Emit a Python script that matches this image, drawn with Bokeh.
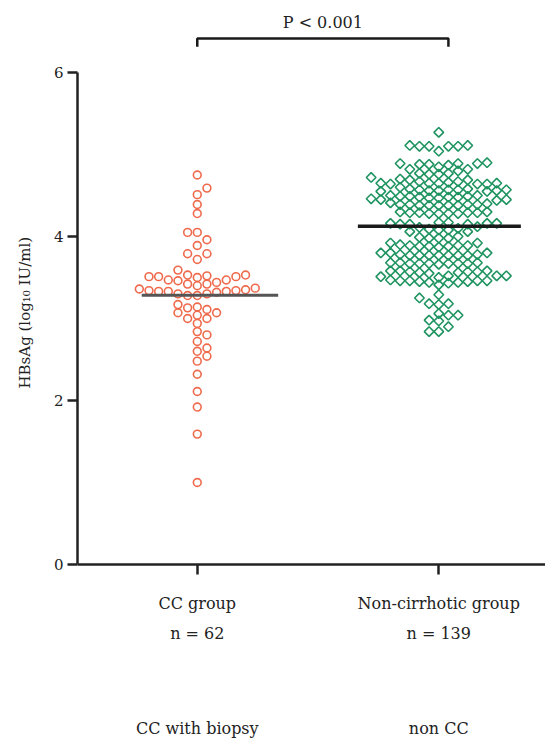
import numpy as np
from bokeh.plotting import figure
from bokeh.models import FixedTicker, Range1d, Title
from bokeh.core.properties import value
from bokeh.embed import file_html
from bokeh.resources import INLINE

# ---------------- data ----------------
groups = ["CC group", "Non-cirrhotic group"]
group_n = ["n = 62", "n = 139"]
group_sub = ["CC with biopsy", "non CC"]
p_text = "P < 0.001"
y_ticks = [0, 2, 4, 6]
y_title = "HBsAg (log\u2081\u2080 IU/ml)"

cc_values = [
    4.75, 4.59, 4.51, 4.39, 4.28, 4.05, 4.05, 3.96, 3.89, 3.79, 3.79, 3.72, 3.59,
    3.51, 3.50, 3.47, 3.44, 3.53, 3.52, 3.53, 3.46, 3.47, 3.51, 3.51,
    3.42, 3.40, 3.42,
    3.36, 3.35, 3.34, 3.33, 3.32, 3.30, 3.28, 3.28, 3.30, 3.33, 3.33, 3.34, 3.37,
    3.17, 3.13, 3.07, 3.07, 3.11, 3.14, 3.00, 2.94, 3.00, 3.04,
    2.84, 2.80, 2.72, 2.64, 2.60, 2.54, 2.48, 2.32, 2.11, 1.92, 1.59, 1.00,
]

noncc_values = [
    5.27,
    5.10, 5.11, 5.10, 5.04, 5.11, 5.10, 5.10,
    4.89, 4.89, 4.87, 4.82, 4.80, 4.90, 4.89, 4.82, 4.85, 4.88, 4.88,
    4.77, 4.76, 4.77, 4.76,
    4.72, 4.69, 4.67, 4.65, 4.64, 4.64, 4.65, 4.64, 4.65, 4.65, 4.66, 4.67, 4.69, 4.70,
    4.57, 4.56, 4.58, 4.55, 4.57, 4.56, 4.55, 4.56, 4.57, 4.58, 4.57, 4.60,
    4.50, 4.47, 4.45, 4.46, 4.48, 4.49, 4.50, 4.48, 4.49, 4.49, 4.48, 4.45, 4.44, 4.47,
    4.39, 4.38, 4.38, 4.39, 4.39, 4.40, 4.38, 4.38, 4.38, 4.39, 4.41,
    4.30, 4.28, 4.29, 4.28, 4.30, 4.29, 4.28, 4.28, 4.29, 4.29,
    4.17, 4.15, 4.15, 4.16, 4.16, 4.17, 4.15, 4.16,
    4.08, 4.06, 4.09, 4.10, 4.11, 4.12, 4.08, 4.06,
    4.00, 3.98, 3.98, 3.98, 3.99,
    3.92, 3.89, 3.88, 3.88, 3.89, 3.87, 3.88, 3.89, 3.90, 3.92,
    3.80, 3.78, 3.77, 3.77, 3.77, 3.77, 3.77, 3.78, 3.77, 3.77, 3.80, 3.80,
    3.68, 3.67, 3.67, 3.67, 3.67, 3.67, 3.68, 3.68, 3.67, 3.66,
    3.58, 3.57, 3.57, 3.56, 3.55, 3.56, 3.57, 3.58, 3.58,
    3.52, 3.51, 3.47, 3.46, 3.46, 3.46, 3.44, 3.41, 3.43, 3.44, 3.45, 3.45, 3.46, 3.50, 3.52, 3.52,
    3.29, 3.25, 3.18, 3.17, 3.18, 3.04, 3.04, 3.06, 2.98, 2.97, 2.90, 2.84, 2.84,
]

# ---------------- styling constants ----------------
FONT = "DejaVu Serif"
TXT = "#222222"
CC_COLOR = "#EF6A4C"
NON_COLOR = "#1F9460"
COL_W = 0.040          # horizontal step of the swarm (x units)


def swarm_offsets(vals, sep):
    """Discrete-column beeswarm: each point goes to the column nearest the
    centre where it does not collide with an already placed point."""
    order = sorted(range(len(vals)), key=lambda i: vals[i])
    cols = {}
    offs = [0] * len(vals)
    flip = 1
    for i in order:
        y = vals[i]
        cand = [0]
        for m in range(1, 40):
            cand += [m * flip, -m * flip]
        for c in cand:
            if all(abs(y - yy) >= sep for yy in cols.get(c, [])):
                break
        cols.setdefault(c, []).append(y)
        offs[i] = c
        flip = -flip
    return offs


cc_x = [1 + k * COL_W for k in swarm_offsets(cc_values, 0.10)]
non_x = [2 + k * COL_W for k in swarm_offsets(noncc_values, 0.088)]

p = figure(width=545, height=738, output_backend="svg", toolbar_location=None,
           x_range=Range1d(0.504, 2.442), y_range=Range1d(-2.122, 6.878),
           min_border_left=76, min_border_right=0, min_border_top=0,
           min_border_bottom=0)
p.outline_line_color = None
p.grid.visible = False
p.background_fill_color = "white"

# y axis
ya = p.yaxis[0]
ya.ticker = FixedTicker(ticks=y_ticks)
ya.bounds = (0, 6)
ya.major_label_text_font = FONT
ya.major_label_text_font_size = "15px"
ya.major_label_text_color = TXT
ya.major_label_standoff = 4
ya.axis_line_width = 2.5
ya.axis_line_color = TXT
ya.major_tick_line_width = 2.5
ya.major_tick_line_color = TXT
ya.major_tick_out = 10
ya.major_tick_in = 0
ya.minor_tick_line_color = None

# y axis title (left panel), starting low so it is centred on the 0..6 axis
ytitle = Title(text=y_title, align="left", offset=350, standoff=30,
               vertical_align="top",
               text_font=FONT, text_font_size="15px", text_font_style="normal",
               text_color=TXT)
p.add_layout(ytitle, "left")

# x axis (drawn at y = 0)
xa = p.xaxis[0]
xa.fixed_location = 0
xa.ticker = FixedTicker(ticks=[1, 2])
xa.major_label_overrides = {1: groups[0], 2: groups[1]}
xa.major_label_text_font = FONT
xa.major_label_text_font_size = "16px"
xa.major_label_text_color = TXT
xa.major_label_standoff = 20
xa.axis_line_width = 2.5
xa.axis_line_color = TXT
xa.major_tick_line_width = 2.5
xa.major_tick_line_color = TXT
xa.major_tick_out = 10
xa.major_tick_in = 0
xa.minor_tick_line_color = None

# points
p.scatter(x=cc_x, y=cc_values, marker="circle", size=7.8,
          fill_color=None, line_color=CC_COLOR, line_width=1.6)
p.scatter(x=non_x, y=noncc_values, marker="square", angle=np.pi / 4, size=6.8,
          fill_color=None, line_color=NON_COLOR, line_width=1.6)

# mean lines
cc_mean = float(np.mean(cc_values))
non_mean = float(np.mean(noncc_values))
p.segment(x0=[1 - 0.23], x1=[1 + 0.335], y0=[cc_mean], y1=[cc_mean],
          line_color="#555555", line_width=3)
p.segment(x0=[2 - 0.335], x1=[2 + 0.34], y0=[non_mean], y1=[non_mean],
          line_color="#1a1a1a", line_width=3.5)

# significance bracket
bx0, bx1, by, bdrop = 1.0, 2.04, 6.415, 0.10
p.line(x=[bx0, bx0, bx1, bx1], y=[by - bdrop, by, by, by - bdrop],
       line_color="#1a1a1a", line_width=2.5)
p.text(x=[(bx0 + bx1) / 2], y=[6.61], text=[p_text], text_align="center",
       text_baseline="middle", text_font=value(FONT), text_font_size="16px",
       text_color=TXT)

# n = ... and sub labels
p.text(x=[1, 2], y=[-0.84, -0.84], text=group_n, text_align="center",
       text_baseline="middle", text_font=value(FONT), text_font_size="16px",
       text_color=TXT)
p.text(x=[1, 2], y=[-2.0, -2.0], text=group_sub, text_align="center",
       text_baseline="middle", text_font=value(FONT), text_font_size="16px",
       text_color=TXT)

open("out.html", "w").write(file_html(p, INLINE))
